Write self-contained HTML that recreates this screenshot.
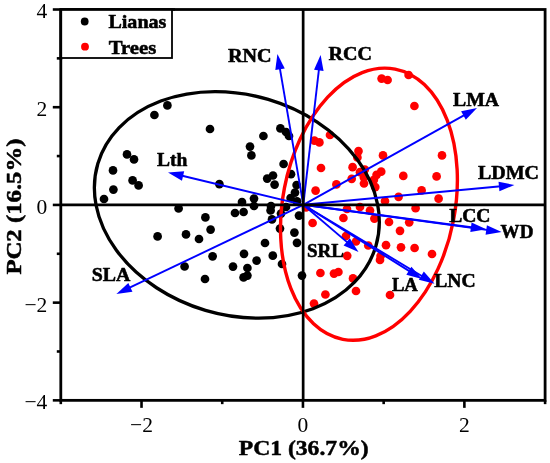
<!DOCTYPE html>
<html><head><meta charset="utf-8"><title>PCA biplot</title>
<style>
html,body{margin:0;padding:0;background:#fff;}
body{width:550px;height:463px;overflow:hidden;font-family:"Liberation Serif",serif;}
svg{display:block;will-change:transform;}
text{font-family:"Liberation Serif",serif;fill:#000;}
.b{font-weight:bold;font-size:19px;stroke:#000;stroke-width:0.55px;stroke-linejoin:round;}
.t{font-size:21.5px;}
.ax{font-weight:bold;font-size:22px;stroke:#000;stroke-width:0.5px;stroke-linejoin:round;}
</style></head><body>
<svg width="550" height="463" viewBox="0 0 550 463">
<rect x="0" y="0" width="550" height="463" fill="#ffffff"/>
<rect x="60.8" y="9.5" width="484.3" height="390.85" fill="none" stroke="#000" stroke-width="2.8"/>
<line x1="60.80" y1="400.35" x2="60.80" y2="404.15000000000003" stroke="#000" stroke-width="2.6"/>
<line x1="141.52" y1="400.35" x2="141.52" y2="407.85" stroke="#000" stroke-width="2.6"/>
<text class="t" x="141.52" y="431.5" text-anchor="middle">−2</text>
<line x1="222.23" y1="400.35" x2="222.23" y2="404.15000000000003" stroke="#000" stroke-width="2.6"/>
<line x1="302.95" y1="400.35" x2="302.95" y2="407.85" stroke="#000" stroke-width="2.6"/>
<text class="t" x="302.95" y="431.5" text-anchor="middle">0</text>
<line x1="383.67" y1="400.35" x2="383.67" y2="404.15000000000003" stroke="#000" stroke-width="2.6"/>
<line x1="464.38" y1="400.35" x2="464.38" y2="407.85" stroke="#000" stroke-width="2.6"/>
<text class="t" x="464.38" y="431.5" text-anchor="middle">2</text>
<line x1="545.10" y1="400.35" x2="545.10" y2="404.15000000000003" stroke="#000" stroke-width="2.6"/>
<line x1="60.8" y1="9.50" x2="52.8" y2="9.50" stroke="#000" stroke-width="2.6"/>
<text class="t" x="47.3" y="18.40" text-anchor="end">4</text>
<line x1="60.8" y1="58.36" x2="56.8" y2="58.36" stroke="#000" stroke-width="2.6"/>
<line x1="60.8" y1="107.21" x2="52.8" y2="107.21" stroke="#000" stroke-width="2.6"/>
<text class="t" x="47.3" y="116.11" text-anchor="end">2</text>
<line x1="60.8" y1="156.07" x2="56.8" y2="156.07" stroke="#000" stroke-width="2.6"/>
<line x1="60.8" y1="204.93" x2="52.8" y2="204.93" stroke="#000" stroke-width="2.6"/>
<text class="t" x="47.3" y="213.83" text-anchor="end">0</text>
<line x1="60.8" y1="253.78" x2="56.8" y2="253.78" stroke="#000" stroke-width="2.6"/>
<line x1="60.8" y1="302.64" x2="52.8" y2="302.64" stroke="#000" stroke-width="2.6"/>
<text class="t" x="47.3" y="311.54" text-anchor="end">−2</text>
<line x1="60.8" y1="351.49" x2="56.8" y2="351.49" stroke="#000" stroke-width="2.6"/>
<line x1="60.8" y1="400.35" x2="52.8" y2="400.35" stroke="#000" stroke-width="2.6"/>
<text class="t" x="47.3" y="409.25" text-anchor="end">−4</text>
<g fill="#000"><circle cx="167.4" cy="105.4" r="4.35"/><circle cx="154.4" cy="115" r="4.35"/><circle cx="210" cy="129" r="4.35"/><circle cx="127" cy="154.4" r="4.35"/><circle cx="134" cy="159.4" r="4.35"/><circle cx="113" cy="170.4" r="4.35"/><circle cx="132.6" cy="180.4" r="4.35"/><circle cx="138.6" cy="185.4" r="4.35"/><circle cx="113.4" cy="189.6" r="4.35"/><circle cx="104" cy="199" r="4.35"/><circle cx="178.6" cy="208.4" r="4.35"/><circle cx="157.6" cy="236.4" r="4.35"/><circle cx="186" cy="234.4" r="4.35"/><circle cx="199" cy="239" r="4.35"/><circle cx="184.6" cy="266.5" r="4.35"/><circle cx="263.4" cy="136" r="4.35"/><circle cx="280.4" cy="128.4" r="4.35"/><circle cx="286" cy="132" r="4.35"/><circle cx="289" cy="136" r="4.35"/><circle cx="250" cy="146.6" r="4.35"/><circle cx="251.4" cy="155.4" r="4.35"/><circle cx="283.6" cy="164" r="4.35"/><circle cx="291" cy="174.2" r="4.35"/><circle cx="273" cy="175.5" r="4.35"/><circle cx="267.2" cy="178.6" r="4.35"/><circle cx="219.4" cy="184.2" r="4.35"/><circle cx="274.6" cy="184.6" r="4.35"/><circle cx="296.6" cy="185" r="4.35"/><circle cx="295" cy="192.6" r="4.35"/><circle cx="290.6" cy="198" r="4.35"/><circle cx="297" cy="201.4" r="4.35"/><circle cx="254" cy="198.6" r="4.35"/><circle cx="242" cy="202" r="4.35"/><circle cx="254" cy="206" r="4.35"/><circle cx="271" cy="206" r="4.35"/><circle cx="270.6" cy="210.4" r="4.35"/><circle cx="286" cy="207" r="4.35"/><circle cx="281" cy="213.6" r="4.35"/><circle cx="243.6" cy="212" r="4.35"/><circle cx="235" cy="213" r="4.35"/><circle cx="299" cy="215.6" r="4.35"/><circle cx="272" cy="219.4" r="4.35"/><circle cx="205.4" cy="217.4" r="4.35"/><circle cx="210.6" cy="229.6" r="4.35"/><circle cx="280" cy="228.6" r="4.35"/><circle cx="294.4" cy="232.6" r="4.35"/><circle cx="265" cy="243" r="4.35"/><circle cx="297" cy="242.8" r="4.35"/><circle cx="244" cy="253.8" r="4.35"/><circle cx="212.6" cy="256.3" r="4.35"/><circle cx="272.8" cy="255.7" r="4.35"/><circle cx="256.6" cy="260.6" r="4.35"/><circle cx="282" cy="264" r="4.35"/><circle cx="233" cy="266.6" r="4.35"/><circle cx="247.4" cy="268" r="4.35"/><circle cx="247.4" cy="275.6" r="4.35"/><circle cx="243.6" cy="277.4" r="4.35"/><circle cx="205" cy="279" r="4.35"/><circle cx="302" cy="275.6" r="4.35"/></g>
<g fill="#ff0000"><circle cx="381.6" cy="78.6" r="4.35"/><circle cx="387.6" cy="80" r="4.35"/><circle cx="408.6" cy="75" r="4.35"/><circle cx="414.4" cy="106" r="4.35"/><circle cx="330" cy="135" r="4.35"/><circle cx="314.4" cy="140.6" r="4.35"/><circle cx="319.4" cy="142.4" r="4.35"/><circle cx="358.5" cy="151.1" r="4.35"/><circle cx="357.4" cy="157.4" r="4.35"/><circle cx="383" cy="155.4" r="4.35"/><circle cx="321" cy="168" r="4.35"/><circle cx="352.6" cy="167.2" r="4.35"/><circle cx="381.2" cy="171.7" r="4.35"/><circle cx="376.6" cy="174.8" r="4.35"/><circle cx="360" cy="172.2" r="4.35"/><circle cx="364.8" cy="169.5" r="4.35"/><circle cx="363.9" cy="177.5" r="4.35"/><circle cx="403.3" cy="175.9" r="4.35"/><circle cx="351.7" cy="178.8" r="4.35"/><circle cx="373.9" cy="179.8" r="4.35"/><circle cx="364" cy="183.5" r="4.35"/><circle cx="375.3" cy="187.1" r="4.35"/><circle cx="336.4" cy="184.4" r="4.35"/><circle cx="315.6" cy="190.6" r="4.35"/><circle cx="398.6" cy="196.8" r="4.35"/><circle cx="385" cy="201" r="4.35"/><circle cx="360" cy="207" r="4.35"/><circle cx="347" cy="209" r="4.35"/><circle cx="370" cy="210.5" r="4.35"/><circle cx="306" cy="207.4" r="4.35"/><circle cx="343.4" cy="218" r="4.35"/><circle cx="374.4" cy="218.6" r="4.35"/><circle cx="389" cy="222" r="4.35"/><circle cx="312.6" cy="223" r="4.35"/><circle cx="400" cy="230.8" r="4.35"/><circle cx="346" cy="236" r="4.35"/><circle cx="356" cy="241.5" r="4.35"/><circle cx="368.3" cy="245.5" r="4.35"/><circle cx="386" cy="245.2" r="4.35"/><circle cx="401" cy="247.3" r="4.35"/><circle cx="347.2" cy="255.8" r="4.35"/><circle cx="380.6" cy="256" r="4.35"/><circle cx="380" cy="260" r="4.35"/><circle cx="320.4" cy="273" r="4.35"/><circle cx="334" cy="273.6" r="4.35"/><circle cx="338.4" cy="272" r="4.35"/><circle cx="353" cy="278.4" r="4.35"/><circle cx="356" cy="291" r="4.35"/><circle cx="325.4" cy="294.5" r="4.35"/><circle cx="314" cy="303.6" r="4.35"/><circle cx="390" cy="295" r="4.35"/><circle cx="442" cy="155.4" r="4.35"/><circle cx="436.6" cy="176.4" r="4.35"/><circle cx="421.6" cy="190.4" r="4.35"/><circle cx="438.6" cy="198.7" r="4.35"/><circle cx="415.6" cy="208.2" r="4.35"/><circle cx="409.2" cy="222.3" r="4.35"/><circle cx="414.6" cy="248" r="4.35"/><circle cx="432" cy="254" r="4.35"/></g>
<ellipse cx="236.85" cy="204.9" rx="145.0" ry="110.05" transform="rotate(16.57 236.85 204.9)" fill="none" stroke="#000" stroke-width="3.3"/>
<ellipse cx="368.95" cy="204.2" rx="137.6" ry="86.06" transform="rotate(-79.05 368.95 204.2)" fill="none" stroke="#ff0000" stroke-width="3.4"/>
<line x1="303.3" y1="204.8" x2="181.13" y2="175.54" stroke="#0000ff" stroke-width="1.9"/><polygon points="168.00,172.40 184.19,171.34 181.96,180.68" fill="#0000ff"/>
<line x1="303.3" y1="204.8" x2="128.58" y2="288.19" stroke="#0000ff" stroke-width="1.9"/><polygon points="116.40,294.00 128.32,282.99 132.46,291.66" fill="#0000ff"/>
<line x1="303.3" y1="204.8" x2="279.69" y2="67.31" stroke="#0000ff" stroke-width="1.9"/><polygon points="277.40,54.00 284.75,68.46 275.29,70.09" fill="#0000ff"/>
<line x1="303.3" y1="204.8" x2="319.05" y2="68.41" stroke="#0000ff" stroke-width="1.9"/><polygon points="320.60,55.00 323.59,70.95 314.05,69.85" fill="#0000ff"/>
<line x1="303.3" y1="204.8" x2="465.21" y2="114.57" stroke="#0000ff" stroke-width="1.9"/><polygon points="477.00,108.00 465.80,119.74 461.12,111.35" fill="#0000ff"/>
<line x1="303.3" y1="204.8" x2="500.96" y2="186.26" stroke="#0000ff" stroke-width="1.9"/><polygon points="514.40,185.00 499.42,191.23 498.52,181.67" fill="#0000ff"/>
<line x1="303.3" y1="204.8" x2="472.92" y2="227.51" stroke="#0000ff" stroke-width="1.9"/><polygon points="486.30,229.30 470.30,232.00 471.57,222.49" fill="#0000ff"/>
<line x1="303.3" y1="204.8" x2="488.23" y2="230.17" stroke="#0000ff" stroke-width="1.9"/><polygon points="501.60,232.00 485.59,234.65 486.90,225.14" fill="#0000ff"/>
<line x1="303.3" y1="204.8" x2="423.03" y2="276.75" stroke="#0000ff" stroke-width="1.9"/><polygon points="434.60,283.70 418.84,279.83 423.79,271.60" fill="#0000ff"/>
<line x1="303.3" y1="204.8" x2="410.55" y2="271.84" stroke="#0000ff" stroke-width="1.9"/><polygon points="422.00,279.00 406.31,274.85 411.40,266.71" fill="#0000ff"/>
<line x1="303.3" y1="204.8" x2="348.23" y2="243.14" stroke="#0000ff" stroke-width="1.9"/><polygon points="358.50,251.90 343.59,245.49 349.82,238.19" fill="#0000ff"/>
<line x1="60.8" y1="204.8" x2="545.1" y2="204.8" stroke="#000" stroke-width="2.7"/>
<line x1="303.15" y1="9.5" x2="303.15" y2="400.35" stroke="#000" stroke-width="2.7"/>
<text class="b" x="157" y="166.4" textLength="30.4" lengthAdjust="spacingAndGlyphs">Lth</text>
<text class="b" x="91.8" y="281" textLength="38.6" lengthAdjust="spacingAndGlyphs">SLA</text>
<text class="b" x="228" y="62" textLength="43.6" lengthAdjust="spacingAndGlyphs">RNC</text>
<text class="b" x="328.6" y="60" textLength="43.4" lengthAdjust="spacingAndGlyphs">RCC</text>
<text class="b" x="453" y="106.4" textLength="46" lengthAdjust="spacingAndGlyphs">LMA</text>
<text class="b" x="478" y="179" textLength="61" lengthAdjust="spacingAndGlyphs">LDMC</text>
<text class="b" x="449.2" y="222.2" textLength="41.3" lengthAdjust="spacingAndGlyphs">LCC</text>
<text class="b" x="500.6" y="238" textLength="32.8" lengthAdjust="spacingAndGlyphs">WD</text>
<text class="b" x="434.2" y="287" textLength="41.4" lengthAdjust="spacingAndGlyphs">LNC</text>
<text class="b" x="391.9" y="290.5" textLength="26" lengthAdjust="spacingAndGlyphs">LA</text>
<text class="b" x="307" y="256.9" textLength="37" lengthAdjust="spacingAndGlyphs">SRL</text>
<rect x="60.8" y="9.5" width="111.2" height="48.5" fill="#fff" stroke="#000" stroke-width="1.8"/>
<line x1="60.8" y1="9.5" x2="60.8" y2="60" stroke="#000" stroke-width="2.7"/>
<line x1="60.8" y1="9.5" x2="175" y2="9.5" stroke="#000" stroke-width="2.7"/>
<circle cx="84.7" cy="21.5" r="3.9" fill="#000"/><circle cx="85" cy="46.7" r="3.9" fill="#ff0000"/>
<text class="b" x="108.4" y="28.3" textLength="58" lengthAdjust="spacingAndGlyphs">Lianas</text>
<text class="b" x="108.8" y="54" textLength="47.4" lengthAdjust="spacingAndGlyphs">Trees</text>
<text class="ax" x="238.8" y="455" textLength="129.8" lengthAdjust="spacingAndGlyphs">PC1 (36.7%)</text>
<text class="ax" transform="translate(21 274.6) rotate(-90)" textLength="136" lengthAdjust="spacingAndGlyphs">PC2 (16.5%)</text>
</svg></body></html>
